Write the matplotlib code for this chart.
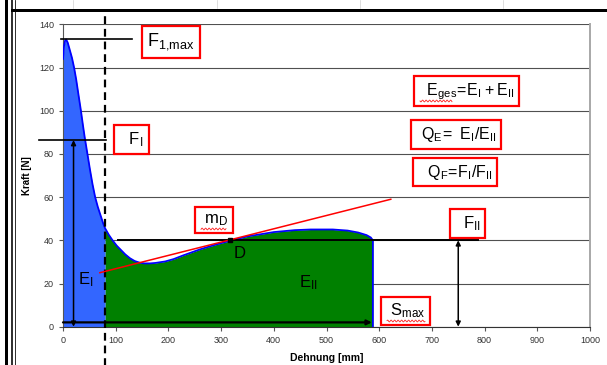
import numpy as np
import matplotlib
matplotlib.use("Agg")
import matplotlib.pyplot as plt
from matplotlib.lines import Line2D

plt.rcParams['font.family'] = ['Liberation Sans', 'DejaVu Sans']
plt.rcParams['mathtext.fontset'] = 'custom'
plt.rcParams['mathtext.rm'] = 'Liberation Sans'

# Kraft-Dehnungs-Kurve
dehnung = [0, 2, 4, 6, 9, 13, 17, 21, 25, 29, 34, 38, 41, 44, 47, 51, 56, 61, 66, 72,
           76, 80, 87, 94, 102, 110, 118, 127, 136, 146, 155, 165, 175, 194, 210, 228,
           260, 290, 317, 350, 400, 440, 470, 512, 540, 560, 576, 584, 588]
kraft = [124, 130, 132.5, 133, 131.5, 128, 124.5, 120, 114.5, 108, 100, 93, 88, 83.5,
         79, 73, 66, 60, 55.5, 51, 48, 45.5, 42.5, 40, 37.5, 35.5, 33.5, 31.7, 30.4,
         29.6, 29.3, 29.3, 29.5, 30.2, 31.3, 33, 35.8, 38, 39.8, 41.8, 43.8, 44.7, 45,
         45, 44.5, 43.6, 42.4, 41.3, 40]

s_grenze = 80          # Grenze zwischen E_I und E_II
f1_max = 133
f_1 = 86.4
f_2 = 40
s_max = 588
punkt_d = (317, 40)
tangente_x = [70, 622]
tangente_y = [25, 59]

x_ticks = list(range(0, 1001, 100))
y_ticks = list(range(0, 141, 20))

W, H = 607, 365
fig = plt.figure(figsize=(W / 100, H / 100), dpi=100)
ax = fig.add_axes([63 / W, 1 - 326.7 / H, (590 - 63) / W, (326.7 - 24.3) / H])

def fx(px):
    return px / W

def fy(py):
    return 1 - py / H

def wellenlinie(x0, x1, py):
    # rote Rechtschreib-Unterstreichung
    xs = np.linspace(x0, x1, int((x1 - x0) * 3))
    ys = py + 0.9 * np.sin(xs * 2 * np.pi / 3.5)
    fig.add_artist(Line2D(fx(xs), fy(ys), color='#ff2020', lw=0.6))

# Rahmen aussen
for lx, lw in [(5.5, 3.0), (12.5, 1.6), (15, 0.8)]:
    fig.add_artist(Line2D([fx(lx), fx(lx)], [0, 1], color='black', lw=lw * 0.72))
fig.add_artist(Line2D([fx(12), 1], [fy(9.5), fy(9.5)], color='black', lw=3 * 0.72))
for tx in [73, 217, 360, 503]:
    fig.add_artist(Line2D([fx(tx), fx(tx)], [fy(0), fy(8)], color='#d0d0d0', lw=0.5))

x = np.array(dehnung)
y = np.array(kraft)
teil1 = x <= s_grenze
teil2 = x >= s_grenze
ax.fill_between(x[teil1], 0, y[teil1], color='#3366ff', lw=0, zorder=2)
ax.fill_between(x[teil2], 0, y[teil2], color='#008000', lw=0, zorder=2)
ax.plot(list(x) + [s_max], list(y) + [0], color='#0000ff', lw=1.3, zorder=3)

# Hilfslinien
ax.plot([-3, 130], [f1_max, f1_max], color='black', lw=1.2, zorder=4, clip_on=False)
ax.plot([-45, s_grenze + 1], [f_1, f_1], color='black', lw=1.2, zorder=4, clip_on=False)
ax.plot([105, 787], [f_2, f_2], color='black', lw=1.4, zorder=4)
ax.plot([s_grenze, s_grenze], [-18, 145], color='black', lw=1.6, ls=(0, (3.5, 2.2)),
        zorder=5, clip_on=False)
ax.plot(tangente_x, tangente_y, color='red', lw=1.1, zorder=5)
ax.plot(*punkt_d, marker='s', color='black', ms=3.5, zorder=6)

pfeil = dict(arrowstyle='<|-|>', color='black', lw=1.1, mutation_scale=7,
             shrinkA=0, shrinkB=0)
ax.annotate('', xy=(20, f_1), xytext=(20, 0), arrowprops=pfeil, zorder=6)
ax.annotate('', xy=(750, f_2), xytext=(750, 0), arrowprops=pfeil, zorder=6)
ax.annotate('', xy=(s_max - 2, 2), xytext=(0, 2),
            arrowprops=dict(arrowstyle='-|>', color='black', lw=1.6, mutation_scale=7,
                            shrinkA=0, shrinkB=0), zorder=6)

box = dict(boxstyle='square,pad=0.3', fc='white', ec='#ff0000', lw=1.6)
ax.text(205, 131.8, r'$\mathregular{F_{1{,}max}}$', fontsize=13, ha='center', va='center',
        bbox=box, zorder=7)
ax.text(130, 86.7, r'$\mathregular{\ \;F_{I}\ \;}$', fontsize=12, ha='center', va='center',
        bbox=box, zorder=7)
ax.text(766, 109, r'$\mathregular{\ \,E_{ges}\!=\!E_{I} + E_{II}\ \,}$', fontsize=11.5,
        ha='center', va='center', bbox=box, zorder=7)
ax.text(746, 89, r'$\mathregular{\ Q_{E}\!=\ E_{I}/E_{II}\ }$', fontsize=11.5,
        ha='center', va='center', bbox=box, zorder=7)
ax.text(744, 71.6, r'$\mathregular{\ \;Q_{F}\!=\!F_{I}/F_{II}\ \;}$', fontsize=11.5,
        ha='center', va='center', bbox=box, zorder=7)
ax.text(286, 49.4, r'$\mathregular{\;m_{D}\;}$', fontsize=12, ha='center', va='center',
        bbox=box, zorder=7)
ax.text(767.5, 47.7, r'$\mathregular{\ \,F_{II}\ \,}$', fontsize=12, ha='center',
        va='center', bbox=box, zorder=7)
ax.text(650, 7.3, r'$\mathregular{\;S_{max}\;}$', fontsize=12, ha='center', va='center',
        bbox=box, zorder=7)
ax.text(44, 21.6, r'$\mathregular{E_{I}}$', fontsize=12, ha='center', va='center', zorder=7)
ax.text(336, 34, 'D', fontsize=12, ha='center', va='center', zorder=7)
ax.text(465, 20.2, r'$\mathregular{E_{II}}$', fontsize=12, ha='center', va='center', zorder=7)

wellenlinie(420, 452, 101)
wellenlinie(201, 226, 229)
wellenlinie(387, 425, 321)

ax.set_xlim(0, 1000)
ax.set_ylim(0, 140)
ax.set_xticks(x_ticks)
ax.set_yticks(y_ticks)
ax.tick_params(labelsize=6.5, labelcolor='#333333', color='#555555', length=3, width=0.8)
ax.grid(axis='y', color='#505050', lw=0.8)
ax.set_axisbelow(True)
ax.spines['top'].set_visible(False)
ax.spines['right'].set_color('#a8a8a8')
ax.spines['right'].set_linewidth(1.4)
ax.spines['left'].set_color('#555555')
ax.spines['bottom'].set_color('#333333')
ax.set_xlabel('Dehnung [mm]', fontsize=7.5, fontweight='bold', labelpad=6)
ax.set_ylabel('Kraft [N]', fontsize=7, fontweight='bold', labelpad=5)

fig.savefig('out.png', dpi=100)
